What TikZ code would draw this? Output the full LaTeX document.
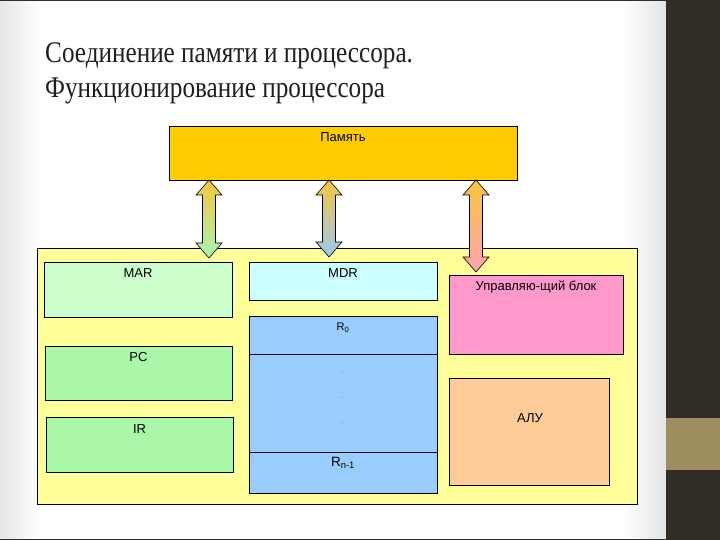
\documentclass[tikz,border=0pt]{standalone}
\usepackage{fontspec}
\setmainfont{Liberation Serif}
\newfontfamily\arialf{Liberation Sans}
\usetikzlibrary{calc}
\definecolor{bandc}{HTML}{332D28}
\definecolor{goldc}{HTML}{9E8E5F}
\definecolor{memc}{HTML}{FFCC00}
\definecolor{cpuc}{HTML}{FFFF99}
\definecolor{marc}{HTML}{CCFFCC}
\definecolor{mdrc}{HTML}{CCFFFF}
\definecolor{regc}{HTML}{99CCFF}
\definecolor{pcc}{HTML}{AAF7AA}
\definecolor{cuc}{HTML}{FF99CC}
\definecolor{aluc}{HTML}{FFCC99}
\definecolor{edgec}{HTML}{E3E5E7}
\definecolor{arrtop}{HTML}{F7C63A}
\definecolor{arrgreen}{HTML}{A8F5B0}
\definecolor{arrblue}{HTML}{9CC8F5}
\definecolor{arrpink}{HTML}{FFA3B0}
\tikzset{
  blk/.style={draw=black, line width=0.8pt, inner sep=0pt, minimum width=#1},
  lbl/.style={anchor=base, inner sep=0pt, font=\arialf\fontsize{13}{15}\selectfont},
  ttl/.style={anchor=base west, inner sep=0pt, font=\fontsize{30}{36}\selectfont, text=black!88},
  dotl/.style={anchor=base, inner sep=0pt, text=black!55, font=\arialf\fontsize{8}{9}\selectfont}
}
\newcommand{\dblarrow}[5]{%
  \shade[draw=black, line width=0.6pt, top color=#4, bottom color=#5]
   (#1,#2) -- (#1+13,#2+15) -- (#1+6.5,#2+15) -- (#1+6.5,#3-15) -- (#1+13,#3-15)
   -- (#1,#3) -- (#1-13,#3-15) -- (#1-6.5,#3-15) -- (#1-6.5,#2+15) -- (#1-13,#2+15) -- cycle;}
\begin{document}
\begin{tikzpicture}[x=1pt,y=-1pt]
\useasboundingbox (0,0) rectangle (720,540);
% slide background
\fill[white] (0,0) rectangle (666,540);
\shade[left color=edgec, right color=white] (0,0) rectangle (40,540);
\shade[left color=white, right color=edgec] (620,0) rectangle (666,540);
\fill[bandc] (666,0) rectangle (720,540);
\fill[goldc] (666,418) rectangle (720,470);
\fill[bandc] (0,0) rectangle (666,1.2);
\fill[bandc] (0,538.5) rectangle (666,540);
% title
\node[ttl] (t1) at (45,63) {\scalebox{0.84}[1]{Соединение памяти и процессора.}};
\node[ttl] (t2) at (45,98) {\scalebox{0.84}[1]{Функционирование процессора}};
% memory
\node[blk=348pt, minimum height=54pt, fill=memc] (mem) at (343,153) {};
\node[lbl] (memt) at ($(mem.north)+(0,16)$) {Память};
% cpu
\node[blk=600pt, minimum height=256pt, fill=cpuc] (cpu) at (337,376) {};
\node[blk=188pt, minimum height=55pt, fill=marc] (mar) at (138,289.5) {};
\node[lbl] (mart) at ($(mar.north)+(0,16)$) {MAR};
\node[blk=188pt, minimum height=38pt, fill=mdrc] (mdr) at (343,281) {};
\node[lbl] (mdrt) at ($(mdr.north)+(0,15.5)$) {MDR};
\node[blk=188pt, minimum height=177pt, fill=regc] (regs) at (343,404.5) {};
\coordinate (d1) at (249,354);
\coordinate (d2) at (249,452);
\draw[line width=0.8pt] (d1) -- (d1 -| regs.east);
\draw[line width=0.8pt] (d2) -- (d2 -| regs.east);
\node[lbl, font=\arialf\fontsize{11}{13}\selectfont] (r0) at ($(regs.north)+(0,15)$) {R\textsubscript{0}};
\node[dotl] (p1) at (342,372) {.};
\node[dotl] (p2) at (342,398) {.};
\node[dotl] (p3) at (342,423) {.};
\node[lbl, font=\arialf\fontsize{13.5}{15}\selectfont] (rn) at (343,466) {R\textsubscript{n-1}};
\node[blk=187pt, minimum height=54pt, fill=pcc] (pc) at (138.5,373) {};
\node[lbl] (pct) at ($(pc.north)+(0,16)$) {PC};
\node[blk=187pt, minimum height=55pt, fill=pcc] (ir) at (139.5,444.5) {};
\node[lbl] (irt) at ($(ir.north)+(0,17)$) {IR};
\node[blk=174pt, minimum height=79pt, fill=cuc] (cu) at (536,314.5) {};
\node[lbl] (cut) at ($(cu.north)+(0,16)$) {Управляю-щий блок};
\node[blk=160pt, minimum height=107pt, fill=aluc] (alu) at (529,431.5) {};
\node[lbl] (alut) at (530,422) {АЛУ};
% arrows
\dblarrow{209}{180}{258}{arrtop}{arrgreen}
\dblarrow{329}{180}{257}{arrtop}{arrblue}
\dblarrow{476}{180}{272}{arrtop}{arrpink}
\end{tikzpicture}
\end{document}
